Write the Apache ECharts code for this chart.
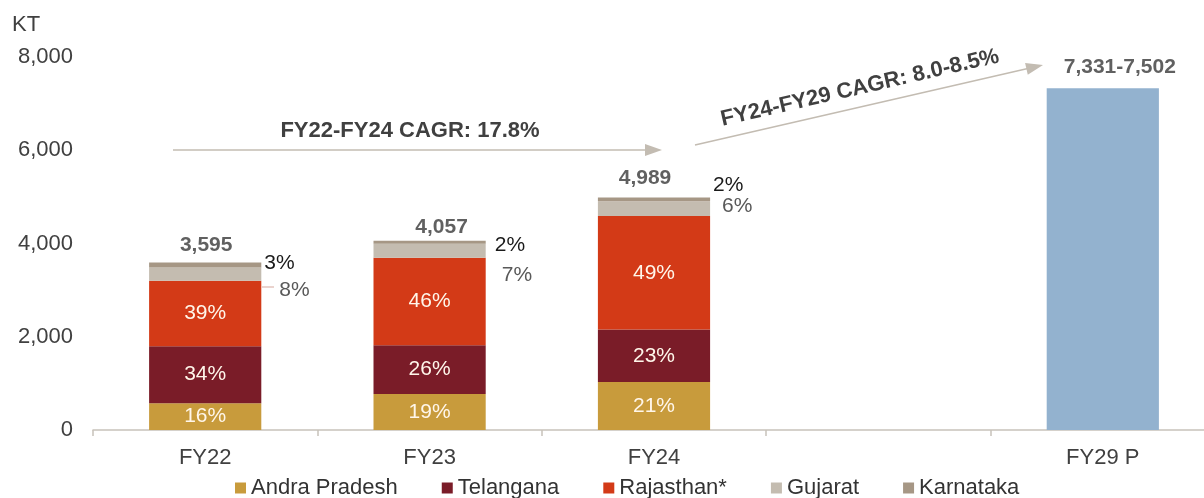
<!DOCTYPE html>
<html>
<head>
<meta charset="utf-8">
<script src="https://cdn.jsdelivr.net/npm/echarts@6/dist/echarts.min.js"></script>
<style>
  html, body { margin: 0; padding: 0; background: #ffffff; }
  #chart { width: 1204px; height: 498px; }
</style>
</head>
<body>
<div id="chart"></div>
<script>
// Categories on the x axis (the blank slot separates actuals from the projection)
const categories = ['FY22', 'FY23', 'FY24', '', 'FY29 P'];

// Volumes by state, KT
const andhraPradesh = [575, 771, 1030, null, null];
const telangana     = [1222, 1045, 1125, null, null];
const rajasthan     = [1402, 1876, 2437, null, null];
const gujarat       = [288, 300, 312, null, null];
const karnataka     = [108, 65, 85, null, null];

// FY29 projected range, KT
const fy29Low = 7331;
const fy29High = 7502;

// Growth annotations
const cagrActual = 'FY22-FY24 CAGR: 17.8%';
const cagrProjected = 'FY24-FY29 CAGR: 8.0-8.5%';

const SANS = "'Liberation Sans',Arial,Helvetica,sans-serif";
const TEXT = '#404040';

const fmt = v => Math.round(v).toLocaleString('en-US');

// Stack totals for the actual years
const totals = categories.map((c, i) => {
  const parts = [andhraPradesh[i], telangana[i], rajasthan[i], gujarat[i], karnataka[i]];
  return parts[0] == null ? null : parts.reduce((a, b) => a + b, 0);
});
const pct = (v, i) => Math.round(v / totals[i] * 100) + '%';

// Inside labels for the three large segments
function insideSeries(name, data, color) {
  return {
    name, type: 'bar', stack: 'total', barWidth: '50%', data,
    itemStyle: { color },
    label: {
      show: true, position: 'inside', color: '#FFF6EA',
      fontFamily: SANS, fontSize: 21,
      formatter: p => p.value == null ? '' : pct(p.value, p.dataIndex)
    }
  };
}

// Side labels for the two thin segments on top
const karnatakaLabel = [
  { distance: 3, offset: [0, -2] },
  { distance: 9, offset: [0, 3] },
  { distance: 3, offset: [0, -14] }
];
const gujaratLabel = [
  { distance: 18, offset: [0, 16] },
  { distance: 16, offset: [0, 24] },
  { distance: 12, offset: [0, -2] }
];
function sideSeries(name, data, color, layout, labelColor) {
  return {
    name, type: 'bar', stack: 'total', barWidth: '50%',
    itemStyle: { color },
    data: data.map((v, i) => v == null ? null : {
      value: v,
      label: {
        show: true, position: 'right', distance: layout[i].distance, offset: layout[i].offset,
        color: labelColor, fontFamily: SANS, fontSize: 21,
        formatter: () => pct(v, i)
      }
    })
  };
}

// Bold totals above each column
const totalOffsets = [[1, -17], [12, -14], [-9, -19], null, [17, -21]];
const totalPoints = categories.map((c, i) => {
  if (i === 4) return { value: [i, fy29Low], label: { offset: totalOffsets[i] } };
  if (totals[i] == null) return null;
  return { value: [i, totals[i]], label: { offset: totalOffsets[i] } };
}).filter(Boolean);

const chart = echarts.init(document.getElementById('chart'), null, { renderer: 'canvas' });

const arrowColor = '#C3BCB2';
const tilt = Math.atan2(80, 348);

chart.setOption({
  animation: false,
  backgroundColor: '#ffffff',
  // the last slot runs a little past the right edge of the canvas
  grid: { left: 93, width: 1122, top: 57, bottom: 68, containLabel: false, outerBoundsMode: 'none' },
  legend: {
    data: ['Andra Pradesh', 'Telangana', 'Rajasthan*', 'Gujarat', 'Karnataka'],
    left: 230, top: 472,
    icon: 'rect', itemWidth: 11, itemHeight: 11, itemGap: 44,
    textStyle: { fontFamily: SANS, fontSize: 22, color: '#333333' }
  },
  xAxis: {
    type: 'category', data: categories,
    axisLine: { lineStyle: { color: '#C8C2BA', width: 1.5 } },
    axisTick: { show: true, length: 6, lineStyle: { color: '#C8C2BA', width: 1.5 } },
    axisLabel: { color: TEXT, fontFamily: SANS, fontSize: 22, margin: 17, interval: 0 }
  },
  yAxis: {
    type: 'value', min: 0, max: 8000, interval: 2000,
    splitLine: { show: false },
    axisLine: { show: false }, axisTick: { show: false },
    axisLabel: { color: TEXT, fontFamily: SANS, fontSize: 22, margin: 20, formatter: v => fmt(v) }
  },
  series: [
    insideSeries('Andra Pradesh', andhraPradesh, '#C89B3C'),
    insideSeries('Telangana', telangana, '#7A1C28'),
    insideSeries('Rajasthan*', rajasthan, '#D33A17'),
    sideSeries('Gujarat', gujarat, '#C4BCB0', gujaratLabel, '#595959'),
    sideSeries('Karnataka', karnataka, '#A69785', karnatakaLabel, '#1A1A1A'),
    {
      name: 'FY29 P', type: 'bar', stack: 'total', barWidth: '50%',
      data: categories.map((c, i) => i === 4 ? fy29Low : null),
      itemStyle: { color: '#93B2CF' }
    },
    {
      name: 'Total', type: 'scatter', symbolSize: 0, data: totalPoints, z: 5,
      label: {
        show: true, position: 'inside', color: '#383838',
        fontFamily: SANS, fontSize: 21, fontWeight: 'bold',
        formatter: p => p.value[0] === 4 ? fmt(fy29Low) + '-' + fmt(fy29High) : fmt(p.value[1])
      }
    }
  ],
  graphic: [
    { type: 'text', left: 12, top: 14,
      style: { text: 'KT', fontFamily: SANS, fontSize: 22, fill: TEXT } },
    // leader to the FY22 Gujarat share
    { type: 'line', shape: { x1: 262, y1: 287, x2: 274, y2: 287 },
      style: { stroke: '#DDB6AE', lineWidth: 1.2 } },
    // FY22 to FY24 arrow
    { type: 'line', shape: { x1: 173, y1: 150, x2: 648, y2: 150 },
      style: { stroke: arrowColor, lineWidth: 1.5 } },
    { type: 'polygon', shape: { points: [[645, 144], [662, 150], [645, 156]] },
      style: { fill: arrowColor } },
    { type: 'text', x: 410, y: 131,
      style: { text: cagrActual, fontFamily: SANS, fontSize: 22, fontWeight: 'bold',
               fill: TEXT, align: 'center', verticalAlign: 'middle' } },
    // FY24 to FY29 arrow
    { type: 'line', shape: { x1: 695, y1: 145, x2: 1030, y2: 68 },
      style: { stroke: arrowColor, lineWidth: 1.5 } },
    { type: 'polygon', x: 1043, y: 65, rotation: tilt,
      shape: { points: [[0, 0], [-17, -6], [-17, 6]] },
      style: { fill: arrowColor } },
    { type: 'text', x: 860, y: 88, rotation: tilt,
      style: { text: cagrProjected, fontFamily: SANS, fontSize: 22, fontWeight: 'bold',
               fill: TEXT, align: 'center', verticalAlign: 'middle' } }
  ]
});
</script>
</body>
</html>
